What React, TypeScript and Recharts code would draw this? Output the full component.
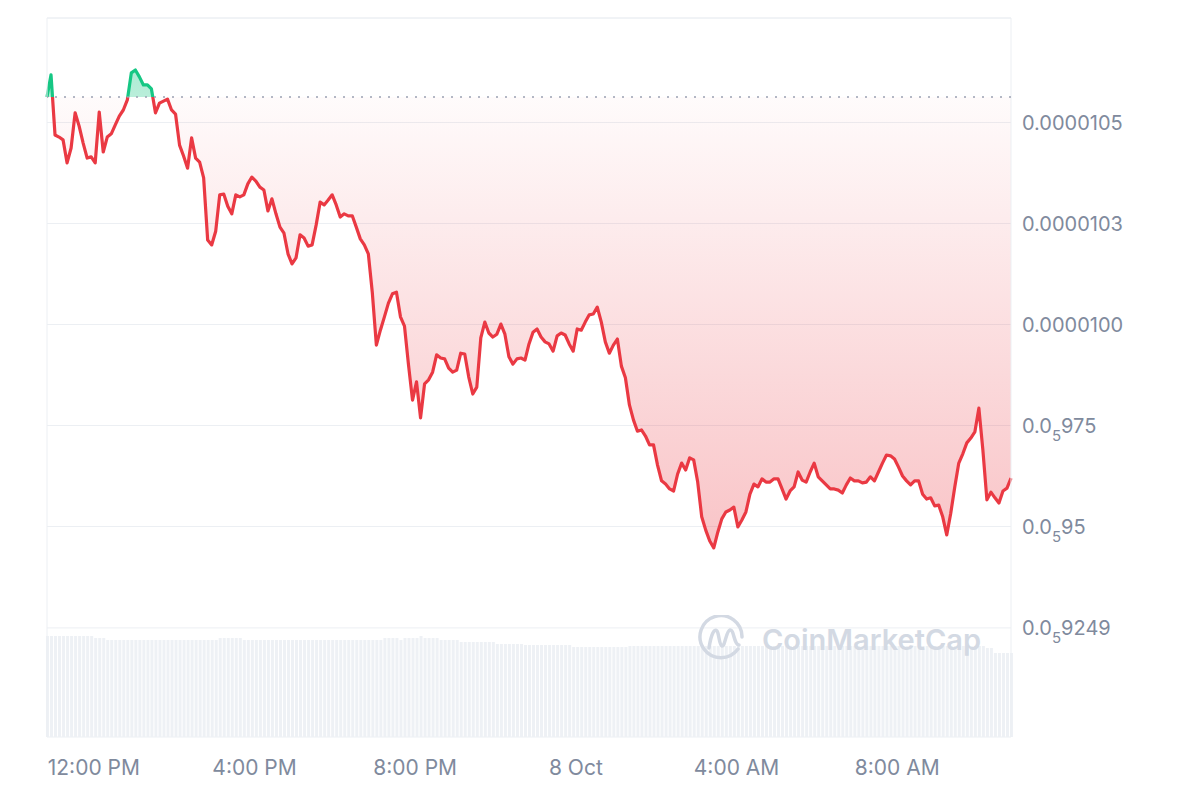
import {
  ComposedChart,
  Area,
  Bar,
  XAxis,
  YAxis,
  CartesianGrid,
  ReferenceLine,
} from "recharts";

// time axis: minutes from 12:00 PM (7 Oct), one sample every 6 minutes
const START_MIN = -70;
const STEP_MIN = 6;

// price in millionths (10.563 => 0.000010563)
const PRICE = [
  10.563, 10.618, 10.469, 10.464, 10.457, 10.4, 10.437, 10.524, 10.491, 10.449,
  10.412, 10.415, 10.4, 10.526, 10.427, 10.464, 10.472, 10.494, 10.516, 10.531,
  10.556, 10.623, 10.63, 10.613, 10.593, 10.593, 10.583, 10.524, 10.548, 10.553,
  10.558, 10.531, 10.521, 10.444, 10.417, 10.387, 10.462, 10.412, 10.402, 10.363,
  10.209, 10.197, 10.231, 10.321, 10.323, 10.293, 10.274, 10.321, 10.316, 10.321,
  10.348, 10.365, 10.355, 10.34, 10.333, 10.281, 10.311, 10.274, 10.241, 10.226,
  10.175, 10.15, 10.165, 10.222, 10.214, 10.194, 10.197, 10.246, 10.303, 10.296,
  10.308, 10.321, 10.296, 10.266, 10.274, 10.269, 10.269, 10.241, 10.212, 10.197,
  10.175, 10.078, 9.949, 9.986, 10.019, 10.053, 10.076, 10.08, 10.019, 9.996,
  9.9, 9.813, 9.858, 9.769, 9.853, 9.863, 9.882, 9.925, 9.917, 9.915,
  9.892, 9.882, 9.887, 9.929, 9.927, 9.87, 9.828, 9.845, 9.967, 10.006,
  9.979, 9.969, 9.976, 10.001, 9.976, 9.92, 9.902, 9.915, 9.917, 9.912,
  9.952, 9.981, 9.989, 9.969, 9.957, 9.952, 9.934, 9.972, 9.979, 9.974,
  9.952, 9.934, 9.989, 9.986, 10.006, 10.024, 10.026, 10.043, 10.006, 9.957,
  9.929, 9.949, 9.964, 9.897, 9.868, 9.801, 9.764, 9.736, 9.739, 9.724,
  9.702, 9.702, 9.652, 9.613, 9.605, 9.593, 9.588, 9.63, 9.657, 9.64,
  9.67, 9.665, 9.61, 9.524, 9.491, 9.464, 9.447, 9.486, 9.519, 9.536,
  9.541, 9.548, 9.499, 9.516, 9.536, 9.58, 9.605, 9.598, 9.618, 9.61,
  9.61, 9.618, 9.618, 9.593, 9.568, 9.588, 9.598, 9.635, 9.615, 9.61,
  9.635, 9.657, 9.623, 9.613, 9.603, 9.593, 9.593, 9.59, 9.583, 9.603,
  9.62, 9.613, 9.613, 9.608, 9.61, 9.623, 9.613, 9.635, 9.657, 9.677,
  9.675, 9.667, 9.647, 9.625, 9.613, 9.603, 9.613, 9.613, 9.58, 9.568,
  9.571, 9.551, 9.553, 9.524, 9.479, 9.533, 9.598, 9.657, 9.68, 9.707,
  9.719, 9.734, 9.793, 9.689, 9.566, 9.585, 9.571, 9.558, 9.588, 9.595,
  9.62,
];

// 24h volume, thousands
const VOLUME = [
  101, 101, 101, 101, 101, 101, 101, 101, 101, 101, 101, 101, 99, 99, 99, 97,
  97, 97, 97, 97, 97, 97, 97, 97, 97, 97, 97, 97, 97, 97, 97, 97, 97, 97, 97,
  97, 97, 97, 97, 97, 97, 97, 97, 99, 99, 99, 99, 99, 99, 97, 97, 97, 97, 97,
  97, 97, 97, 97, 97, 97, 97, 97, 97, 97, 97, 97, 97, 97, 97, 97, 97, 97, 97,
  97, 97, 97, 97, 97, 97, 97, 97, 97, 97, 97, 99, 99, 99, 99, 97, 99, 99, 99,
  99, 101, 99, 99, 99, 99, 97, 97, 97, 97, 97, 95, 95, 95, 95, 95, 95, 95, 95,
  95, 93, 93, 93, 93, 93, 93, 93, 92, 92, 92, 92, 92, 92, 92, 92, 92, 92, 92,
  92, 90, 90, 90, 90, 90, 90, 90, 90, 90, 90, 90, 90, 90, 90, 91, 91, 91, 91,
  91, 91, 91, 91, 91, 91, 91, 91, 91, 91, 91, 91, 91, 91, 91, 91, 91, 91, 91,
  91, 91, 91, 91, 91, 91, 91, 91, 91, 91, 91, 91, 91, 91, 91, 91, 91, 91, 91,
  91, 91, 91, 91, 91, 91, 91, 91, 91, 91, 91, 91, 91, 91, 91, 91, 91, 91, 91,
  91, 91, 91, 91, 91, 91, 91, 91, 91, 91, 91, 91, 91, 91, 91, 91, 91, 91, 91,
  91, 91, 91, 91, 91, 91, 91, 91, 91, 89, 89, 84, 84, 84, 84, 84, 84,
];

const PRICE_TICKS = [9.249, 9.5, 9.75, 10, 10.25, 10.5];
// {n} marks the subscript zero count
const PRICE_TICK_LABELS = [
  "0.0{5}9249",
  "0.0{5}95",
  "0.0{5}975",
  "0.0000100",
  "0.0000103",
  "0.0000105",
];

const TIME_TICKS = [0, 240, 480, 720, 960, 1200];
const TIME_TICK_LABELS = ["12:00 PM", "4:00 PM", "8:00 PM", "8 Oct", "4:00 AM", "8:00 AM"];

const RED = "#ea3943";
const GREEN = "#16c784";
const MUTED = "#808a9d";
const GRID = "#eceff3";
const FONT = "Inter, 'Noto Sans', sans-serif";

const data = PRICE.map((p, i) => ({
  t: START_MIN + i * STEP_MIN,
  p,
  vol: VOLUME[i],
}));

const open = PRICE[0];
const hi = Math.max(...PRICE);
const lo = Math.min(...PRICE);
const split = (hi - open) / (hi - lo);

function PriceTick({ x, y, payload }: any) {
  const idx = PRICE_TICKS.indexOf(payload.value);
  const label = PRICE_TICK_LABELS[idx] ?? "";
  const m = label.match(/^(.*)\{(\d+)\}(.*)$/);
  return (
    <text x={x + 11} y={y} dy="0.36em" fill={MUTED} fontSize={20} fontFamily={FONT}>
      {m ? (
        <>
          {m[1]}
          <tspan dy={8} fontSize={15}>
            {m[2]}
          </tspan>
          <tspan dy={-8}>{m[3]}</tspan>
        </>
      ) : (
        label
      )}
    </text>
  );
}

function TimeTick({ x, y, payload }: any) {
  const idx = TIME_TICKS.indexOf(payload.value);
  return (
    <text x={x} y={y + 38} textAnchor="middle" fill={MUTED} fontSize={21} fontFamily={FONT}>
      {TIME_TICK_LABELS[idx]}
    </text>
  );
}

function Watermark() {
  const c = "#d3d9e3";
  return (
    <>
      <svg
        width={48}
        height={48}
        style={{ position: "absolute", left: 690, top: 607 }}
        viewBox="0 0 48 48"
      >
        <path
          d="M40 34 A21 21 0 1 1 44 22"
          fill="none"
          stroke={c}
          strokeWidth={3.5}
          strokeLinecap="round"
        />
        <path
          d="M11 33 C13 20 16 13 19 16 C21 18 21 30 24 31 C27 32 28 16 32 15 C36 14 36 30 41 30"
          fill="none"
          stroke={c}
          strokeWidth={3.5}
          strokeLinecap="round"
        />
      </svg>
      <div
        style={{
          position: "absolute",
          left: 754,
          top: 614,
          fontFamily: FONT,
          fontSize: 29,
          lineHeight: "36px",
          fontWeight: 600,
          color: c,
        }}
      >
        CoinMarketCap
      </div>
    </>
  );
}

export default function App() {
  return (
    <div style={{ position: "relative", width: 1184, height: 784 }}>
      <ComposedChart
        width={1184}
        height={784}
        data={data}
        margin={{ top: 10, right: 0, bottom: 0, left: 39 }}
      >
        <defs>
          <linearGradient id="priceStroke" x1="0" y1="0" x2="0" y2="1">
            <stop offset={0} stopColor={GREEN} />
            <stop offset={split} stopColor={GREEN} />
            <stop offset={split} stopColor={RED} />
            <stop offset={1} stopColor={RED} />
          </linearGradient>
          <linearGradient id="priceFill" x1="0" y1="0" x2="0" y2="1">
            <stop offset={0} stopColor={GREEN} stopOpacity={0.35} />
            <stop offset={split} stopColor={GREEN} stopOpacity={0.3} />
            <stop offset={split} stopColor={RED} stopOpacity={0.02} />
            <stop offset={1} stopColor={RED} stopOpacity={0.3} />
          </linearGradient>
        </defs>
        <XAxis
          type="number"
          dataKey="t"
          domain={[START_MIN, START_MIN + (PRICE.length - 1) * STEP_MIN]}
          ticks={TIME_TICKS}
          tick={<TimeTick />}
          axisLine={false}
          tickLine={false}
          tickSize={0}
          tickMargin={0}
          height={55}
          interval={0}
        />
        <YAxis
          yAxisId="price"
          orientation="right"
          domain={[8.979, 10.7587]}
          ticks={PRICE_TICKS}
          tick={<PriceTick />}
          axisLine={false}
          tickLine={false}
          tickSize={0}
          tickMargin={0}
          width={181}
          allowDataOverflow
          interval={0}
        />
        <YAxis yAxisId="vol" hide domain={[0, 719]} />
        <CartesianGrid yAxisId="price" vertical={false} stroke={GRID} />
        <Bar
          yAxisId="vol"
          dataKey="vol"
          fill="#eef1f5"
          barSize={3}
          isAnimationActive={false}
        />
        <ReferenceLine yAxisId="price" y={10.7587} stroke={GRID} />
        <ReferenceLine yAxisId="price" x={START_MIN} stroke={GRID} />
        <ReferenceLine
          yAxisId="price"
          x={START_MIN + (PRICE.length - 1) * STEP_MIN}
          stroke={GRID}
        />
        <ReferenceLine
          yAxisId="price"
          y={open}
          stroke="#9aa1b3"
          strokeWidth={1.5}
          strokeDasharray="2 7"
        />
        <Area
          yAxisId="price"
          type="linear"
          dataKey="p"
          baseValue={open}
          stroke="url(#priceStroke)"
          strokeWidth={3.2}
          strokeLinejoin="round"
          fill="url(#priceFill)"
          fillOpacity={1}
          dot={false}
          activeDot={false}
          isAnimationActive={false}
        />
      </ComposedChart>
      <Watermark />
    </div>
  );
}
